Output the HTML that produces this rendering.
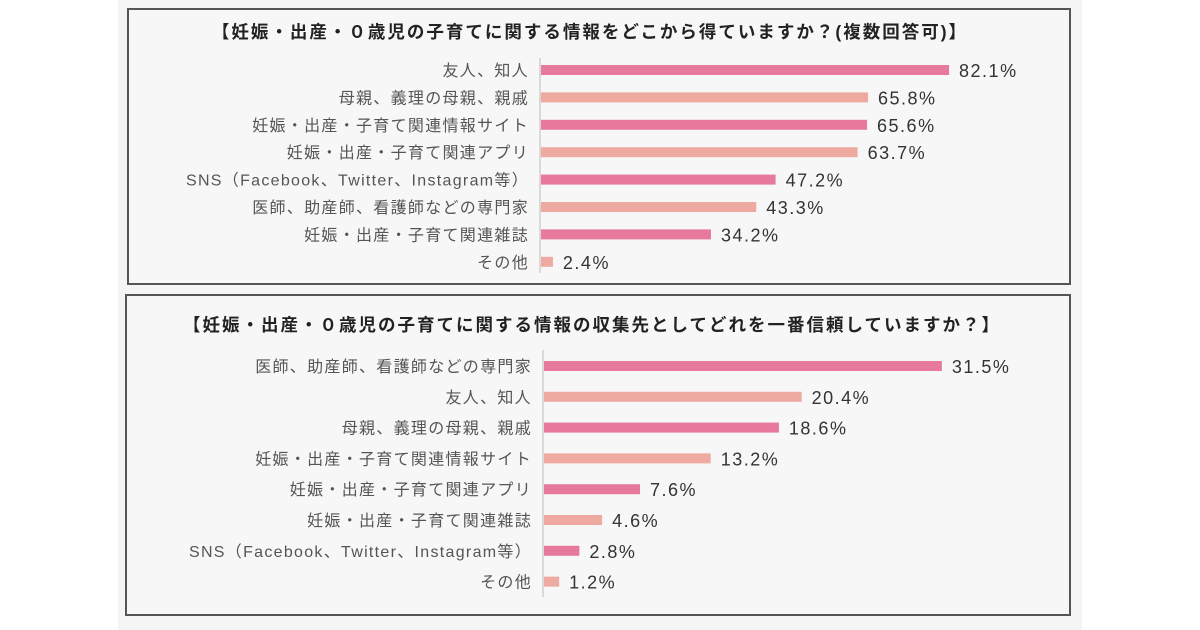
<!DOCTYPE html>
<html><head><meta charset="utf-8"><style>
body{margin:0;width:1200px;height:630px;background:#fff;overflow:hidden;font-family:"Liberation Sans","Noto Sans CJK JP",sans-serif}
#bg{position:absolute;left:118px;top:0;width:964px;height:630px;background:#f5f5f5}
.panel{position:absolute;border:2px solid #555;background:#f7f7f7;box-sizing:border-box}
svg{position:absolute;left:0;top:0}
</style></head><body>
<div id="bg"></div>
<div class="panel" style="left:127px;top:8px;width:944px;height:277px"></div>
<div class="panel" style="left:125px;top:294px;width:946px;height:322px"></div>
<svg id="s" width="1200" height="630">
<text x="590" y="38" text-anchor="middle" font-size="17.5" letter-spacing="2" font-weight="bold" fill="#222">【妊娠・出産・０歳児の子育てに関する情報をどこから得ていますか？(複数回答可)】</text>
<text x="592" y="331" text-anchor="middle" font-size="17.5" letter-spacing="2" font-weight="bold" fill="#222">【妊娠・出産・０歳児の子育てに関する情報の収集先としてどれを一番信頼していますか？】</text>
</svg>
<script>
const topCats=["友人、知人","母親、義理の母親、親戚","妊娠・出産・子育て関連情報サイト","妊娠・出産・子育て関連アプリ","SNS（Facebook、Twitter、Instagram等）","医師、助産師、看護師などの専門家","妊娠・出産・子育て関連雑誌","その他"];
const topVals=[82.1,65.8,65.6,63.7,47.2,43.3,34.2,2.4];
const botCats=["医師、助産師、看護師などの専門家","友人、知人","母親、義理の母親、親戚","妊娠・出産・子育て関連情報サイト","妊娠・出産・子育て関連アプリ","妊娠・出産・子育て関連雑誌","SNS（Facebook、Twitter、Instagram等）","その他"];
const botVals=[31.5,20.4,18.6,13.2,7.6,4.6,2.8,1.2];
const svg=document.getElementById('s');const NS="http://www.w3.org/2000/svg";
function mk(t,a){const e=document.createElementNS(NS,t);for(const k in a)e.setAttribute(k,a[k]);svg.appendChild(e);return e;}
function chart(cats,vals,x0,pxPer,y0,step,axisTop,axisBot,pfx){
  const ax=mk('line',{x1:x0,x2:x0,y1:axisTop,y2:axisBot,stroke:'#bbb','stroke-width':1});
  
  
  cats.forEach((c,i)=>{
    const y=y0+i*step;const w=vals[i]*pxPer;
    const r=mk('rect',{x:x0+1,y:y-5,width:w,height:10,fill:i%2?'#eea9a1':'#e7799c'});
    
    
    const l=mk('text',{x:x0-11,y:y+6,'text-anchor':'end','font-size':16,'letter-spacing':1.3,fill:'#555'});l.textContent=c;
    
    
    const v=mk('text',{x:x0+w+11,y:y+7,'font-size':18,'letter-spacing':1.5,fill:'#333'});v.textContent=vals[i].toFixed(1)+'%';
    
    
  });
}
chart(topCats,topVals,540,4.97,70,27.4,58,273,'top');
chart(botCats,botVals,543,12.63,366,30.8,350,597,'bottom');
</script>
</body></html>
